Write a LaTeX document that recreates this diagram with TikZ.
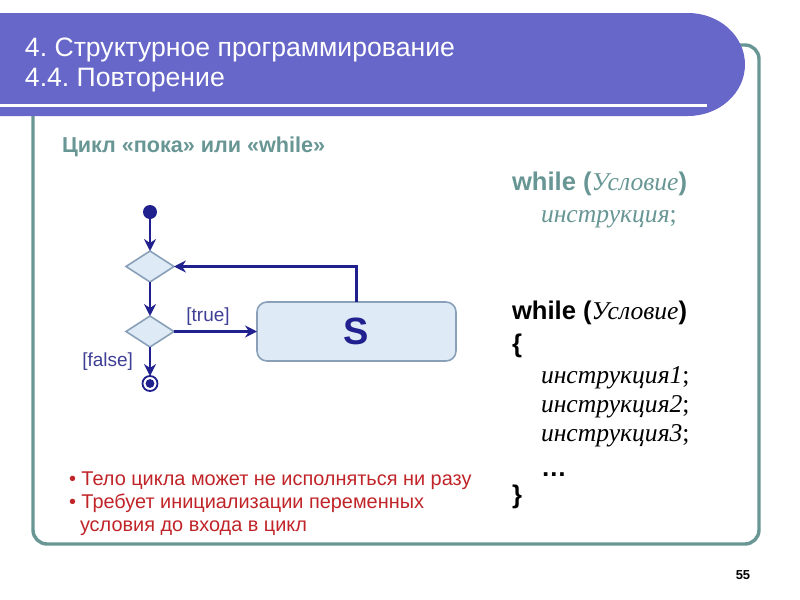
\documentclass[tikz,border=0pt]{standalone}
\usepackage{fontspec}
\setmainfont{Liberation Sans}
\newfontfamily\timesfont{Liberation Serif}
\usetikzlibrary{positioning, shapes.geometric, arrows.meta}
\frenchspacing

\definecolor{headblue}{RGB}{103,103,202}
\definecolor{frameteal}{RGB}{104,150,148}
\definecolor{flownavy}{RGB}{32,32,142}
\definecolor{labelnavy}{RGB}{62,62,150}
\definecolor{boxfill}{RGB}{222,235,247}
\definecolor{boxline}{RGB}{138,160,184}
\definecolor{notered}{RGB}{192,36,40}

\newcommand{\cond}[1]{{\timesfont\itshape #1}}

\begin{document}
\begin{tikzpicture}[x=0.5pt, y=-0.5pt,
      every node/.style={inner sep=0pt, outer sep=0pt},
      decision/.style={diamond, draw=boxline, fill=boxfill, line width=0.8pt,
                       aspect=1.5, minimum width=24pt, minimum height=15.5pt},
      startdot/.style={circle, fill=flownavy, minimum size=7pt},
      stopdot/.style={circle, draw=flownavy, fill=white, line width=0.9pt, minimum size=7.5pt,
                      path picture={\fill[flownavy] (path picture bounding box.center) circle (2.2pt);}},
      bodybox/.style={draw=boxline, fill=boxfill, line width=0.8pt, rounded corners=5pt,
                      minimum width=99.5pt, minimum height=29.5pt,
                      font=\fontsize{19}{19}\selectfont\bfseries, text=flownavy},
      flow/.style={-{Stealth[length=6pt, width=6pt, inset=2pt]}, line width=1.1pt, draw=flownavy},
      lbl/.style={font=\fontsize{9.5}{10}\selectfont, text=labelnavy},
      code/.style={anchor=base west, font=\fontsize{12.8}{14}\selectfont},
      note/.style={anchor=base west, font=\fontsize{9.95}{11}\selectfont, text=notered},
  ]
    \useasboundingbox (0,0) rectangle (800,600);

    % frame and header
    \draw[frameteal, line width=1.7pt, rounded corners=7pt] (33,45) rectangle (759,544);
    \fill[headblue] (0,13) -- (688,13) arc[start angle=-90, end angle=90, x radius=57, y radius=51.5]
      -- (0,116) -- cycle;
    \draw[white, line width=1.5pt] (0,105) -- (707,105);
    \node[anchor=base west, text=white, font=\fontsize{13.3}{15}\selectfont] (title1) at (25,56) {4. Структурное программирование};
    \node[anchor=base west, text=white, font=\fontsize{13.3}{15}\selectfont] (title2) at (25,86) {4.4. Повторение};

    \node[anchor=base west, text=frameteal, font=\fontsize{10.8}{12}\selectfont\bfseries] (subhead) at (62,152)
      {Цикл «пока» или «while»};

    % flowchart
    \node[startdot] (start) at (150,212) {};
    \node[decision, below=16pt of start] (check) {};
    \node[decision, below=17pt of check] (test) {};
    \node[stopdot, below=14.5pt of test] (stop) {};
    \node[bodybox, right=41.5pt of test] (body) {S};

    \draw[flow] (start) -- (check);
    \draw[flow] (check) -- (test);
    \draw[flow] (test) -- node[lbl, above=3pt, pos=0.41] {[true]} (body);
    \draw[flow] (test) -- node[lbl, left=8.5pt] {[false]} (stop);
    \draw[flow] (body.north) |- (check.east);

    % code
    \node[code, text=frameteal] (w1) at (512,190) {\textbf{while (}\cond{Условие}\textbf{)}};
    \node[code, text=frameteal] (w1i) at (541,222) {\cond{инструкция}{\timesfont;}};
    \node[code] (w2) at (512,319) {\textbf{while (}\cond{Условие}\textbf{)}};
    \node[code] (w2a) at (512,352) {\textbf{\{}};
    \node[code] (w2b) at (541,383) {\cond{инструкция1}{\timesfont;}};
    \node[code] (w2c) at (541,412) {\cond{инструкция2}{\timesfont;}};
    \node[code] (w2d) at (541,441) {\cond{инструкция3}{\timesfont;}};
    \node[code] (w2e) at (541,476) {\textbf{…}};
    \node[code] (w2f) at (512,503) {\textbf{\}}};

    % notes
    \node[note] (n1) at (69,485) {• Тело цикла может не исполняться ни разу};
    \node[note] (n2) at (69,508) {• Требует инициализации переменных};
    \node[note] (n3) at (80,531) {условия до входа в цикл};

    \node[anchor=base, font=\fontsize{6.5}{7}\selectfont\bfseries] (page) at (743,579) {55};
  \end{tikzpicture}
\end{document}
